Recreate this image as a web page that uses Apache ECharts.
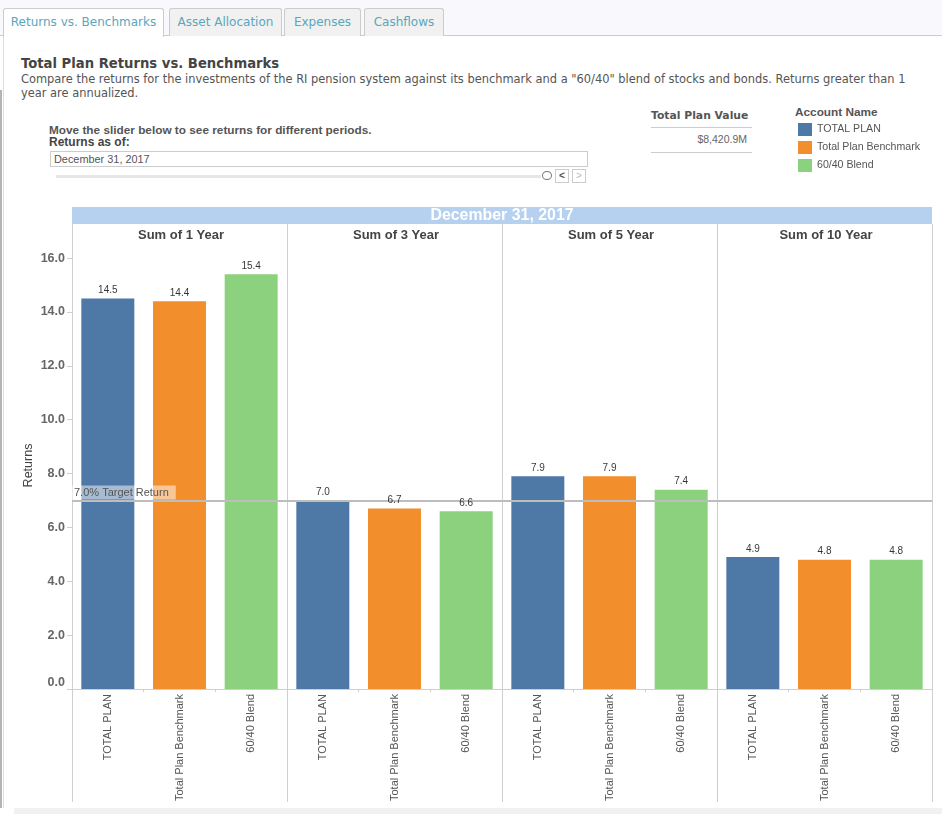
<!DOCTYPE html>
<html>
<head>
<meta charset="UTF-8">
<title>Total Plan Returns vs. Benchmarks</title>
<script src="https://cdn.jsdelivr.net/npm/echarts@6/dist/echarts.min.js"></script>
<style>
html, body { margin: 0; padding: 0; width: 942px; height: 814px; overflow: hidden; background: #fff; }
#page { position: absolute; left: 0; top: 0; width: 942px; height: 814px; font-family: "Liberation Sans", sans-serif; color: #444; }
#page div { position: absolute; white-space: nowrap; box-sizing: border-box; }
#line { position: absolute; left: 0; top: 0; width: 942px; height: 814px; }
.tab { top: 8px; height: 28px; text-align: center; font: 12px/27px "DejaVu Sans", sans-serif; color: #5aa7bb; background: #f1f1f1; border: 1px solid #ccc; border-bottom: 0; border-radius: 3px 3px 0 0; }
</style>
</head>
<body>
<div id="page">
	<div style="left:0;top:0;width:942px;height:36px;background:#f8f8fd;border-bottom:1px solid #ccc"></div>
	<div style="left:0;top:90px;width:2px;height:718px;background:#b5b3b5"></div>
	<div style="left:3px;top:30px;width:1px;height:778px;background:#ddd"></div>
	<div style="left:14px;top:808px;width:928px;height:6px;background:#f1f1f1"></div>
	<div class="tab" style="left:3px;width:161px;height:29px;background:#fff">Returns vs. Benchmarks</div>
	<div class="tab" style="left:169px;width:113px">Asset Allocation</div>
	<div class="tab" style="left:284px;width:77px">Expenses</div>
	<div class="tab" style="left:364px;width:80px">Cashflows</div>

	<div style="left:21px;top:56px;font:bold 13.2px 'DejaVu Sans',sans-serif;color:#444">Total Plan Returns vs. Benchmarks</div>
	<div style="left:21px;top:72px;font:11.43px 'DejaVu Sans',sans-serif;color:#555">Compare the returns for the investments of the RI pension system against its benchmark and a "60/40" blend of stocks and bonds. Returns greater than 1</div>
	<div style="left:21px;top:86px;font:11.43px 'DejaVu Sans',sans-serif;color:#555">year are annualized.</div>

	<div style="left:49px;top:123px;font:bold 11.8px 'Liberation Sans',sans-serif;color:#555">Move the slider below to see returns for different periods.</div>
	<div style="left:49px;top:135px;font:bold 12px 'Liberation Sans',sans-serif;color:#444">Returns as of:</div>
	<div style="left:50px;top:151px;width:538px;height:16px;border:1px solid #ccc;padding-left:3px;font:10.9px/14px 'Liberation Sans',sans-serif;color:#555">December 31, 2017</div>
	<div style="left:56px;top:175px;width:485px;height:3px;background:#e6e6e6"></div>
	<div style="left:542px;top:171px;width:10px;height:9px;border:1px solid #777;border-radius:50%;background:#fff"></div>
	<div style="left:555px;top:169px;width:14px;height:14px;border:1px solid #ccc;font:bold 10px/12px 'Liberation Sans',sans-serif;text-align:center;color:#555">&lt;</div>
	<div style="left:572px;top:169px;width:14px;height:14px;border:1px solid #ccc;font:10px/12px 'Liberation Sans',sans-serif;text-align:center;color:#bbb">&gt;</div>

	<div style="left:651px;top:109px;font:bold 10.8px 'DejaVu Sans',sans-serif;color:#555">Total Plan Value</div>
	<div style="left:651px;top:127px;width:101px;height:1px;background:#ccc"></div>
	<div style="left:651px;top:133px;width:96px;text-align:right;font:10.5px 'Liberation Sans',sans-serif;color:#666">$8,420.9M</div>
	<div style="left:651px;top:152px;width:101px;height:1px;background:#ccc"></div>
	<div style="left:795px;top:105px;font:bold 11.8px 'Liberation Sans',sans-serif;color:#555">Account Name</div>
</div>
<div id="line"></div>
<script type="text/javascript">
var categories = ['TOTAL PLAN', 'Total Plan Benchmark', '60/40 Blend'];
var periods = ['Sum of 1 Year', 'Sum of 3 Year', 'Sum of 5 Year', 'Sum of 10 Year'];
var totalPlan = [14.5, 7.0, 7.9, 4.9];
var benchmark = [14.4, 6.7, 7.9, 4.8];
var blend = [15.4, 6.6, 7.4, 4.8];
var yTicks = [0, 2, 4, 6, 8, 10, 12, 14, 16];
var targetReturn = 7.0;
var targetLabel = '7.0% Target Return';
var dateLabel = 'December 31, 2017';

var accounts = [
	{ values: totalPlan, color: '#4e79a7' },
	{ values: benchmark, color: '#f28e2b' },
	{ values: blend, color: '#8cd17d' }
];

var plotLeft = 72, plotW = 215, plotTop = 242, plotBottom = 689;
var lineColor = '#cfcfcf';

var myChart = echarts.init(document.getElementById('line'), null, { renderer: 'canvas' });

var grids = [], xAxes = [], yAxes = [], titles = [], series = [], dividers = [];

periods.forEach(function (name, p) {
	grids.push({ left: plotLeft + p * plotW, top: plotTop, width: plotW, height: plotBottom - plotTop });
	titles.push({
		text: name,
		left: plotLeft + p * plotW + plotW / 2 - 3.5,
		top: 224,
		textAlign: 'center',
		textStyle: { fontFamily: 'Liberation Sans', fontSize: 13, fontWeight: 'bold', color: '#444' }
	});
	xAxes.push({
		type: 'category',
		gridIndex: p,
		data: categories,
		axisLine: { lineStyle: { color: lineColor } },
		axisTick: { show: true, length: 3, lineStyle: { color: lineColor } },
		axisLabel: { rotate: 90, margin: 5, interval: 0, fontFamily: 'Liberation Sans', fontSize: 11, color: '#555' }
	});
	yAxes.push({
		type: 'value',
		gridIndex: p,
		show: p === 0,
		min: 0,
		max: 16.6,
		interval: 2,
		name: 'Returns',
		nameLocation: 'middle',
		nameGap: 37,
		nameTextStyle: { fontFamily: 'Liberation Sans', fontSize: 12.5, color: '#444' },
		splitLine: { show: false },
		axisLine: { show: true, lineStyle: { color: lineColor } },
		axisTick: { show: true, length: 5, lineStyle: { color: lineColor }, customValues: yTicks },
		axisLabel: {
			customValues: yTicks,
			margin: 7,
			fontFamily: 'Liberation Sans',
			fontSize: 12.5,
			fontWeight: 'bold',
			color: '#666',
			verticalAlignMinLabel: 'bottom',
			formatter: function (v) { return v.toFixed(1); }
		}
	});
	accounts.forEach(function (acc, a) {
		var s = {
			name: categories[a],
			type: 'bar',
			stack: 'panel' + p,
			xAxisIndex: p,
			yAxisIndex: p,
			barWidth: 53,
			itemStyle: { color: acc.color },
			data: categories.map(function (c, i) { return i === a ? acc.values[p] : null; })
		};
		if (a === 0) {
			s.markLine = {
				silent: true,
				symbol: 'none',
				animation: false,
				lineStyle: { color: '#bdbdbd', width: 2, type: 'solid' },
				label: p === 0 ? {
					show: true,
					formatter: targetLabel,
					position: 'insideStartTop',
					distance: [0, 1],
					fontFamily: 'Liberation Sans',
					fontSize: 11,
					color: '#555',
					backgroundColor: 'rgba(255,255,255,0.5)',
					padding: [2, 7, 1, 2]
				} : { show: false },
				data: [{ yAxis: targetReturn }]
			};
		}
		series.push(s);
	});
	// value labels sit above the target line, so they get their own layer
	series.push({
		type: 'scatter',
		xAxisIndex: p,
		yAxisIndex: p,
		z: 6,
		silent: true,
		symbolSize: 0,
		label: {
			show: true,
			position: 'top',
			distance: 3,
			fontFamily: 'Liberation Sans',
			fontSize: 10,
			color: '#000',
			formatter: function (o) { return o.value.toFixed(1); }
		},
		data: accounts.map(function (acc) { return acc.values[p]; })
	});
});

for (var i = 0; i <= periods.length; i++) {
	dividers.push({
		type: 'line',
		shape: { x1: plotLeft + i * plotW + 0.5, y1: 224, x2: plotLeft + i * plotW + 0.5, y2: 802 },
		style: { stroke: lineColor, lineWidth: 1 }
	});
}

var option = {
	animation: false,
	textStyle: { fontFamily: 'Liberation Sans' },
	title: titles,
	legend: {
		orient: 'vertical',
		left: 793,
		top: 118,
		itemWidth: 14,
		itemHeight: 13,
		itemGap: 5,
		icon: 'rect',
		textStyle: { fontFamily: 'Liberation Sans', fontSize: 10.6, color: '#555' },
		data: categories
	},
	graphic: [
		{
			type: 'rect',
			shape: { x: plotLeft, y: 207, width: plotW * periods.length, height: 17 },
			style: { fill: '#b6d1ef' }
		},
		{
			type: 'text',
			x: plotLeft + plotW * periods.length / 2,
			y: 215.5,
			style: { text: dateLabel, fill: '#fff', font: 'bold 15.9px "Liberation Sans"', textAlign: 'center', textVerticalAlign: 'middle' }
		}
	].concat(dividers),
	grid: grids,
	xAxis: xAxes,
	yAxis: yAxes,
	series: series
};
myChart.setOption(option);
</script>
</body>
</html>
